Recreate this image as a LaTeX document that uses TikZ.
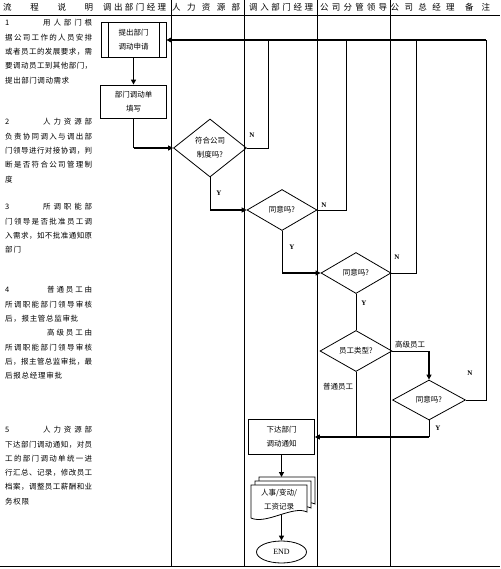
\documentclass[tikz,border=0pt]{standalone}
\usepackage{fontspec}
\setmainfont{Noto Sans CJK SC}
\newfontfamily\latf{Liberation Serif}
\usetikzlibrary{arrows.meta,shapes.geometric}
\makeatletter
\newcommand\spreadtxt[2]{\makebox[#1][l]{\@tfor\mychr:=#2\do{\mychr\hfill}\unskip}}
\makeatother
\newcommand\txtfs{\fontsize{7.5}{14}\selectfont}
\newcommand\hdfs{\fontsize{8.5}{10}\selectfont}
\newcommand\LT[5]{\node[lt] (#1) at (#2,#3) {\spreadtxt{#4pt}{#5}};}
\newcommand\HD[4]{\node[hd] (#1) at (#2,7.5) {\spreadtxt{#3pt}{#4}};}
\begin{document}
\begin{tikzpicture}[x=1pt,y=-1pt,
  lanel/.style={line width=0.8pt},
  box/.style={draw,rectangle,line width=0.8pt,inner sep=0pt,align=center,font=\txtfs},
  dia/.style={draw,diamond,line width=0.8pt,inner sep=0pt,align=center,font=\txtfs},
  thinl/.style={line width=0.8pt},
  thickl/.style={line width=1.8pt},
  arr/.style={-{Triangle[length=5pt,width=5pt]}},
  lt/.style={anchor=west,inner sep=0pt,font=\txtfs},
  hd/.style={anchor=west,inner sep=0pt,font=\hdfs},
  yn/.style={inner sep=0pt,font=\latf\bfseries\fontsize{7}{8}\selectfont},
  cl/.style={inner sep=0pt,font=\txtfs},
  docsh/.style={draw,fill=white,line width=0.8pt},
]
\fill[white] (0,0) rectangle (500,569);
\useasboundingbox (0,0) rectangle (500,569);
% frame
\draw[lanel] (0,15) -- (500,15);
\draw[lanel] (0,566) -- (500,566);
\foreach \lx in {171,244,317,390} \draw[lanel] (\lx,0) -- (\lx,566);
% header
\HD{h1}{3}{90}{流程说明}
\HD{h2}{103}{63}{调出部门经理}
\HD{h3}{172}{68}{人力资源部}
\HD{h4}{249}{64}{调入部门经理}
\HD{h5}{320}{67}{公司分管领导}
\HD{h6}{390.5}{64}{公司总经理}
\HD{h7}{465}{25}{备注}
% left text
\node[lt] (n1) at (5,23) {1};
\LT{t1a}{43}{23}{49}{用人部门根}
\LT{t1b}{5}{37.3}{87}{据公司工作的人员安排}
\LT{t1c}{5}{51.6}{87}{或者员工的发展要求，需}
\LT{t1d}{5}{65.9}{87}{要调动员工到其他部门，}
\LT{t1e}{5}{80.2}{64}{提出部门调动需求}
\node[lt] (n2) at (5,122) {2};
\LT{t2a}{43}{122}{49}{人力资源部}
\LT{t2b}{5}{136.3}{87}{负责协同调入与调出部}
\LT{t2c}{5}{150.6}{87}{门领导进行对接协调，判}
\LT{t2d}{5}{164.9}{87}{断是否符合公司管理制}
\LT{t2e}{5}{179.2}{8}{度}
\node[lt] (n3) at (5,207) {3};
\LT{t3a}{43}{207}{49}{所调职能部}
\LT{t3b}{5}{221.3}{87}{门领导是否批准员工调}
\LT{t3c}{5}{235.6}{87}{入需求，如不批准通知原}
\LT{t3d}{5}{249.9}{16}{部门}
\node[lt] (n4) at (5,290) {4};
\LT{t4a}{47}{290}{45}{普通员工由}
\LT{t4b}{5}{304.3}{87}{所调职能部门领导审核}
\LT{t4c}{5}{318.6}{73}{后，报主管总监审批}
\LT{t4d}{47}{332.9}{45}{高级员工由}
\LT{t4e}{5}{347.2}{87}{所调职能部门领导审核}
\LT{t4f}{5}{361.5}{87}{后，报主管总监审批，最}
\LT{t4g}{5}{375.8}{57}{后报总经理审批}
\node[lt] (n5) at (5,430) {5};
\LT{t5a}{43}{430}{49}{人力资源部}
\LT{t5b}{5}{444.3}{87}{下达部门调动通知，对员}
\LT{t5c}{5}{458.6}{87}{工的部门调动单统一进}
\LT{t5d}{5}{472.9}{87}{行汇总、记录，修改员工}
\LT{t5e}{5}{487.2}{87}{档案，调整员工薪酬和业}
\LT{t5f}{5}{501.5}{24}{务权限}
% flow nodes
\node[box,minimum width=65pt,minimum height=35pt] (b1) at (133.5,40) {提出部门\\调动申请};
\draw[thinl] ([xshift=8pt]b1.north west) -- ([xshift=8pt]b1.south west);
\draw[thinl] ([xshift=-7pt]b1.north east) -- ([xshift=-7pt]b1.south east);
\node[box,minimum width=66pt,minimum height=33pt] (b2) at (133.5,101.5) {部门调动单\\填写};
\node[dia,minimum width=73pt,minimum height=58pt] (d1) at (210,148) {符合公司\\制度吗?};
\node[dia,minimum width=70pt,minimum height=41pt] (d2) at (282,210) {同意吗?};
\node[dia,minimum width=70pt,minimum height=41pt] (d3) at (356,273) {同意吗?};
\node[dia,minimum width=72pt,minimum height=41pt] (d4) at (356,351) {员工类型?};
\node[dia,minimum width=73pt,minimum height=40pt] (d5) at (429,400) {同意吗?};
\node[box,minimum width=66pt,minimum height=35pt] (b3) at (281.5,437) {下达部门\\调动通知};
% document stack
\begin{scope}[shift={(8,-8)}]
\draw[docsh] (251,485) -- (307,485) -- (307,512) .. controls (293,505) and (266,525) .. (251,518) -- cycle;
\end{scope}
\begin{scope}[shift={(4,-4)}]
\draw[docsh] (251,485) -- (307,485) -- (307,512) .. controls (293,505) and (266,525) .. (251,518) -- cycle;
\end{scope}
\draw[docsh] (251,485) -- (307,485) -- (307,512) .. controls (293,505) and (266,525) .. (251,518) -- cycle;
\node[cl,align=center] (doc) at (279,500) {人事/变动/\\工资记录};
\coordinate (doctop) at (281.5,477);
\coordinate (docbot) at (281.5,515);
\node[draw,ellipse,line width=0.8pt,minimum width=50pt,minimum height=22pt,inner sep=0pt,font=\latf\fontsize{8}{9}\selectfont] (end) at (281.5,552) {END};
% connectors
\draw[thickl,arr] (b1.south) -- (b1.south |- b2.north);
\coordinate (c1) at (b2.south |- d1.west);
\draw[thinl] (b2.south) -- (c1);
\draw[thickl,arr] (c1) -- (d1.west);
\coordinate (c2) at (d1.south |- d2.west);
\draw[thinl] (d1.south) -- (c2);
\draw[thickl,arr] (c2) -- (d2.west);
\coordinate (c3) at (d2.south |- d3.west);
\draw[thinl] (d2.south) -- (c3);
\draw[thickl,arr] (c3) -- (d3.west);
\draw[thinl] (d3.south) -- (d4.north);
\coordinate (c4) at (d5.north |- d4.east);
\draw[thinl] (d4.east) -- (c4);
\draw[thickl,arr] (c4) -- (d5.north);
\coordinate (c5) at (d5.south |- b3.east);
\draw[thinl] (d5.south) -- (c5);
\draw[thickl,arr] (c5) -- (b3.east);
\coordinate (c6) at (d4.south |- b3.east);
\draw[thinl] (d4.south) -- (c6);
% N feedback lines
\coordinate (ctop) at (486,40);
\coordinate (f1) at (268,148);
\coordinate (f2) at (346,210);
\coordinate (f3) at (416,273);
\coordinate (f5) at (486,400);
\draw[thinl] (d1.east) -- (f1) -- (f1 |- ctop);
\draw[thinl] (d2.east) -- (f2) -- (f2 |- ctop);
\draw[thinl] (d3.east) -- (f3) -- (f3 |- ctop);
\draw[thinl] (d5.east) -- (f5) -- (ctop);
\draw[thickl,arr] (ctop) -- (b1.east);
\draw[thickl,arr] (b3.south) -- (doctop);
\draw[thickl,arr] (docbot) -- (end.north);
% labels
\node[yn] (ln1) at (252,135) {N};
\node[yn] (ly1) at (219,193) {Y};
\node[yn] (ln2) at (324,205) {N};
\node[yn] (ly2) at (292,247) {Y};
\node[yn] (ln3) at (397,257) {N};
\node[yn] (ly3) at (364,303) {Y};
\node[cl] (lg) at (410,345) {高级员工};
\node[cl] (lp) at (338,387) {普通员工};
\node[yn] (ln5) at (470,373) {N};
\node[yn] (ly5) at (438,428) {Y};
\end{tikzpicture}
\end{document}
